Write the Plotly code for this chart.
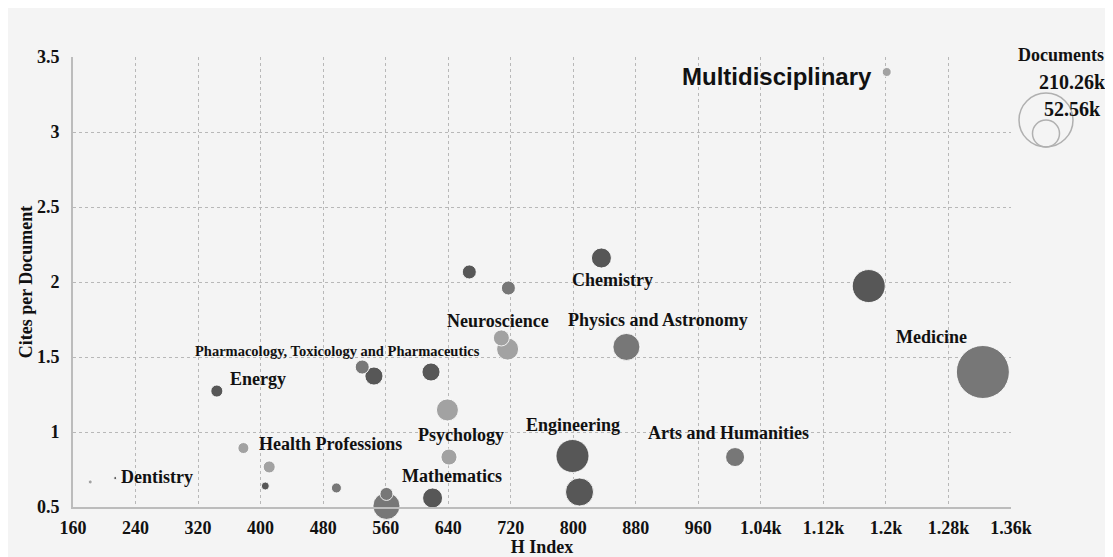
import math
import plotly.graph_objects as go

# ---------------- data ----------------
h_index = [182, 214, 344, 378, 411, 406, 497, 530, 545, 618, 639, 641, 561, 561,
           620, 667, 717, 708, 716, 836, 868, 799, 808, 1007, 1178, 1324, 1201]
cites_per_doc = [0.667, 0.693, 1.273, 0.893, 0.767, 0.64, 0.627, 1.433, 1.373, 1.4,
                 1.147, 0.833, 0.587, 0.507, 0.56, 2.067, 1.96, 1.627, 1.553, 2.16,
                 1.567, 0.84, 0.6, 0.833, 1.973, 1.4, 3.4]
documents = [1150, 650, 10400, 8700, 10400, 4600, 7200, 14100, 23400, 23400,
             34900, 18500, 12200, 52600, 28800, 14100, 14100, 18500, 34900, 28800,
             52600, 78500, 56500, 26000, 78500, 202500, 5800]
tone = ["light", "dark", "dark", "light", "light", "dark", "medium", "medium", "dark", "dark",
        "light", "light", "medium", "medium", "dark", "dark", "medium", "light", "light", "dark",
        "medium", "dark", "dark", "medium", "dark", "medium", "light"]

label_text = ["Multidisciplinary", "Chemistry", "Physics and Astronomy", "Neuroscience",
              "Pharmacology, Toxicology and Pharmaceutics", "Energy", "Health Professions",
              "Psychology", "Mathematics", "Engineering", "Arts and Humanities", "Medicine",
              "Dentistry"]
label_x = [1061, 850, 909, 704, 499, 397, 489, 657, 645, 800, 998, 1258, 268]
label_y = [3.367, 2.013, 1.747, 1.74, 1.54, 1.353, 0.92, 0.98, 0.707, 1.047, 0.993, 1.633, 0.7]

x_tickvals = [160, 240, 320, 400, 480, 560, 640, 720, 800, 880, 960, 1040, 1120, 1200, 1280, 1360]
x_ticktext = ["160", "240", "320", "400", "480", "560", "640", "720", "800", "880", "960",
              "1.04k", "1.12k", "1.2k", "1.28k", "1.36k"]
y_tickvals = [0.5, 1, 1.5, 2, 2.5, 3, 3.5]
y_ticktext = ["0.5", "1", "1.5", "2", "2.5", "3", "3.5"]

legend_docs = [210260, 52560]

# ---------------- styles ----------------
palette = {"dark": "#575757", "medium": "#777777", "light": "#a2a2a2"}
BG = "#f4f4f4"
SERIF = "Liberation Serif"
DOC_REF = legend_docs[0]
D_REF = 54  # px diameter of the reference bubble
sizeref = 2.0 * DOC_REF / D_REF ** 2


def diam(v):
    return math.sqrt(2.0 * v / sizeref)


# draw big bubbles first so small ones sit on top
order = sorted(range(len(documents)), key=lambda i: -documents[i])

fig = go.Figure()
fig.add_trace(go.Scatter(
    x=[h_index[i] for i in order],
    y=[cites_per_doc[i] for i in order],
    mode="markers",
    cliponaxis=False,
    marker=dict(
        size=[documents[i] for i in order],
        sizemode="area",
        sizeref=sizeref,
        color=[palette[tone[i]] for i in order],
        opacity=1,
        line=dict(color="rgba(255,255,255,0.85)", width=1),
    ),
    hoverinfo="x+y",
    showlegend=False,
))

annotations = []
for t, x, y in zip(label_text, label_x, label_y):
    if t == "Multidisciplinary":
        font = dict(family="Liberation Sans", size=24, color="#111111", weight="bold")
    elif t.startswith("Pharmacology"):
        font = dict(family=SERIF, size=14.5, color="#111111", weight="bold")
    else:
        font = dict(family=SERIF, size=18, color="#111111", weight="bold")
    annotations.append(dict(x=x, y=y, xref="x", yref="y", text=t, showarrow=False,
                            xanchor="center", yanchor="middle", font=font))

# page offset of the figure (browser body margin)
OFF = 8
W, H = 1113 - OFF, 557 - OFF
ML, MR, MT, MB = 65, 102, 49, 50
PW = W - ML - MR
PH = H - MT - MB


def px_x(p):  # screen px -> paper
    return (p - OFF - ML) / PW


def px_y(p):
    return (OFF + MT + PH - p) / PH


annotations.append(dict(x=px_x(1061), y=px_y(55), xref="paper", yref="paper",
                        text="Documents", showarrow=False, xanchor="center", yanchor="middle",
                        font=dict(family=SERIF, size=18, color="#111111", weight="bold")))
for v, py in zip(legend_docs, [82, 109]):
    annotations.append(dict(x=px_x(1072), y=px_y(py), xref="paper", yref="paper",
                            text=f"{v / 1000:.2f}k", showarrow=False, xanchor="center",
                            yanchor="middle",
                            font=dict(family=SERIF, size=20, color="#111111", weight="bold")))

shapes = []
for v in legend_docs:
    d = diam(v)
    shapes.append(dict(type="circle", xref="paper", yref="paper",
                       xsizemode="pixel", ysizemode="pixel",
                       xanchor=px_x(1046), yanchor=px_y(147),
                       x0=-d / 2, x1=d / 2, y0=0, y1=d,
                       line=dict(color="#b0b0b0", width=1.5), fillcolor="rgba(0,0,0,0)"))

axis_common = dict(
    showgrid=True, gridcolor="#b8b8b8", griddash="dot", gridwidth=1,
    showline=True, linecolor="#bcbcbc", linewidth=2, zeroline=False,
    ticks="", tickfont=dict(family=SERIF, size=18, color="#111111", weight="bold"),
)

fig.update_layout(
    width=W, height=H,
    margin=dict(l=ML, r=MR, t=MT, b=MB),
    paper_bgcolor=BG, plot_bgcolor=BG,
    xaxis=dict(range=[160, 1360], tickmode="array", tickvals=x_tickvals, ticktext=x_ticktext,
               ticklabelstandoff=3, automargin=False,
               title=dict(text="H Index", standoff=0,
                          font=dict(family=SERIF, size=18, color="#111111", weight="bold")),
               **axis_common),
    yaxis=dict(range=[0.5, 3.5], tickmode="array", tickvals=y_tickvals, ticktext=y_ticktext,
               ticklabelstandoff=8, automargin=False,
               title=dict(text="Cites per Document", standoff=0,
                          font=dict(family=SERIF, size=18, color="#111111", weight="bold")),
               **axis_common),
    annotations=annotations,
    shapes=shapes,
)

fig.write_html("out.html")
